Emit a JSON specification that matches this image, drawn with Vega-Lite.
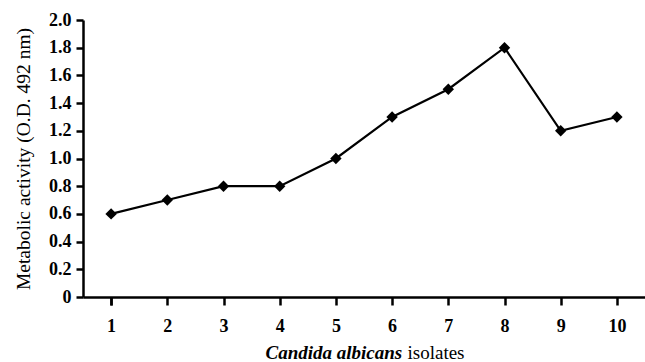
{
  "$schema": "https://vega.github.io/schema/vega-lite/v6.json",
  "width": 562,
  "height": 277,
  "autosize": {"type": "none"},
  "padding": {"left": 83, "top": 20, "right": 0, "bottom": 65},
  "background": "white",
  "config": {
    "view": {"stroke": null},
    "font": "Liberation Serif",
    "axis": {
      "labelFont": "Liberation Serif", "labelFontWeight": "bold", "labelFontSize": 18,
      "labelColor": "black", "domainColor": "black", "domainWidth": 2.5,
      "tickColor": "black", "tickWidth": 2.5, "grid": false,
      "titleFont": "Liberation Serif", "titleColor": "black", "titleFontWeight": "normal",
      "titleFontSize": 19
    },
    "axisX": {"labelPadding": 12, "tickSize": 8, "labelAngle": 0, "tickBand": "extent"},
    "axisY": {"labelPadding": 5, "tickSize": 7, "labelOverlap": false, "labelFlush": false}
  },
  "data": {
    "values": [
      {"isolate": "1", "activity": 0.6},
      {"isolate": "2", "activity": 0.7},
      {"isolate": "3", "activity": 0.8},
      {"isolate": "4", "activity": 0.8},
      {"isolate": "5", "activity": 1.0},
      {"isolate": "6", "activity": 1.3},
      {"isolate": "7", "activity": 1.5},
      {"isolate": "8", "activity": 1.8},
      {"isolate": "9", "activity": 1.2},
      {"isolate": "10", "activity": 1.3}
    ]
  },
  "encoding": {
    "y": {
      "field": "activity", "type": "quantitative",
      "scale": {"domain": [0, 2]},
      "axis": {
        "values": [0, 0.2, 0.4, 0.6, 0.8, 1.0, 1.2, 1.4, 1.6, 1.8, 2.0],
        "labelExpr": "datum.value === 0 ? '0' : format(datum.value, '.1f')",
        "title": "Metabolic activity (O.D. 492 nm)",
        "titleFontSize": 19.5,
        "titleX": -54, "titleBaseline": "alphabetic"
      }
    }
  },
  "resolve": {"axis": {"x": "independent"}},
  "layer": [
    {
      "mark": {"type": "line", "color": "black", "strokeWidth": 2.2},
      "encoding": {
        "x": {
          "field": "isolate", "type": "ordinal", "sort": null,
          "scale": {"paddingInner": 0, "paddingOuter": 0},
          "axis": {
            "orient": "bottom",
            "title": "Candida albicans",
            "titleFontStyle": "italic", "titleFontWeight": "bold",
            "titleX": 182, "titleY": 61, "titleAlign": "left", "titleBaseline": "alphabetic"
          }
        }
      }
    },
    {
      "mark": {"type": "point", "shape": "diamond", "filled": true, "color": "black", "size": 130, "opacity": 1},
      "encoding": {
        "x": {
          "field": "isolate", "type": "ordinal", "sort": null,
          "axis": {
            "orient": "bottom", "labels": false, "ticks": false, "domain": false,
            "title": "isolates",
            "titleX": 324, "titleY": 61, "titleAlign": "left", "titleBaseline": "alphabetic"
          }
        }
      }
    }
  ]
}
